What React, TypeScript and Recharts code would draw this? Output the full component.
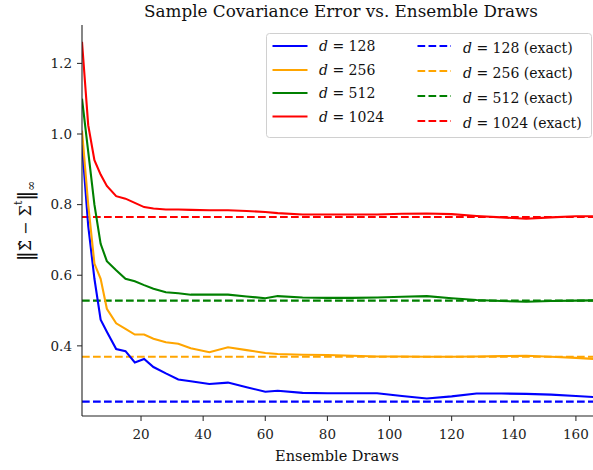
import { LineChart, Line, XAxis, YAxis, ReferenceLine } from 'recharts';

// ensemble draws sampled along the curves
const draws = [1, 3, 5, 7, 9, 12, 15, 18, 21, 24, 28, 32, 36, 42, 48, 54, 60, 64, 72, 80, 88, 96, 104, 112, 120, 128, 136, 144, 152, 160, 166];

const err128 = [0.97, 0.74, 0.59, 0.474, 0.44, 0.391, 0.385, 0.353, 0.363, 0.34, 0.322, 0.305, 0.3, 0.292, 0.296, 0.283, 0.27, 0.273, 0.267, 0.266, 0.266, 0.266, 0.258, 0.251, 0.257, 0.265, 0.265, 0.264, 0.262, 0.258, 0.255];
const err256 = [1.01, 0.8, 0.633, 0.59, 0.505, 0.464, 0.448, 0.432, 0.432, 0.42, 0.41, 0.406, 0.393, 0.382, 0.396, 0.388, 0.38, 0.377, 0.375, 0.374, 0.372, 0.37, 0.37, 0.369, 0.369, 0.37, 0.371, 0.372, 0.369, 0.366, 0.363];
const err512 = [1.1, 0.95, 0.8, 0.689, 0.64, 0.614, 0.59, 0.583, 0.572, 0.562, 0.552, 0.549, 0.545, 0.545, 0.545, 0.54, 0.535, 0.541, 0.537, 0.536, 0.536, 0.537, 0.539, 0.541, 0.535, 0.53, 0.527, 0.525, 0.527, 0.528, 0.529];
const err1024 = [1.261, 1.025, 0.926, 0.885, 0.853, 0.824, 0.817, 0.805, 0.793, 0.789, 0.786, 0.786, 0.785, 0.784, 0.784, 0.782, 0.779, 0.776, 0.772, 0.772, 0.772, 0.772, 0.774, 0.775, 0.773, 0.768, 0.764, 0.76, 0.764, 0.767, 0.767];

const dims = ['128', '256', '512', '1024'];
const exact = [0.242, 0.369, 0.528, 0.765];
const colors = ['#0000ff', '#ffa500', '#008000', '#ff0000'];
const keys = ['d128', 'd256', 'd512', 'd1024'];

const xTicks = [20, 40, 60, 80, 100, 120, 140, 160];
const yTicks = [0.4, 0.6, 0.8, 1.0, 1.2];

const data = draws.map((x, i) => ({
  x,
  d128: err128[i],
  d256: err256[i],
  d512: err512[i],
  d1024: err1024[i],
}));

const FONT = '"DejaVu Serif", "Liberation Serif", serif';
const DASH = '7.7 3.3';
const tickStyle = { fontSize: 13.5, fill: '#222', style: { fontFamily: FONT } };

function Legend() {
  const leftRows = [46, 70, 93, 116.5];
  const rightRows = [46, 71, 96, 121];
  return (
    <g style={{ fontFamily: FONT }} fontSize={14} fill="#111">
      <rect x={266.5} y={33.5} width={325} height={104} rx={3} fill="#fff" fillOpacity={0.8} stroke="#d0d0d0" />
      {dims.map((d, i) => (
        <g key={d}>
          <line x1={272.5} x2={307.5} y1={leftRows[i]} y2={leftRows[i]} stroke={colors[i]} strokeWidth={2.1} />
          <text x={319} y={leftRows[i]} dominantBaseline="central">
            <tspan fontStyle="italic">d</tspan>{' = ' + d}
          </text>
          <line x1={417.5} x2={451} y1={rightRows[i]} y2={rightRows[i]} stroke={colors[i]} strokeWidth={2.1} strokeDasharray={DASH} />
          <text x={463} y={rightRows[i] + 2} dominantBaseline="central">
            <tspan fontStyle="italic">d</tspan>{' = ' + d + ' (exact)'}
          </text>
        </g>
      ))}
    </g>
  );
}

export default function App() {
  return (
    <div style={{ position: 'absolute', left: 0, top: 0, width: 593, height: 470, background: '#fff' }}>
      <LineChart width={593} height={470} data={data} margin={{ top: 25, right: 0, left: 0, bottom: 0 }}>
        <XAxis
          dataKey="x"
          type="number"
          domain={[1, 165.5]}
          allowDataOverflow
          ticks={xTicks}
          tickSize={5}
          tickMargin={8}
          height={54}
          tick={tickStyle}
          axisLine={{ stroke: '#222', strokeWidth: 1.1 }}
          tickLine={{ stroke: '#222' }}
        />
        <XAxis
          xAxisId="top"
          orientation="top"
          type="number"
          domain={[1, 165.5]}
          height={0}
          tick={false}
          tickLine={false}
          axisLine={{ stroke: '#222', strokeWidth: 1.1 }}
        />
        <YAxis
          type="number"
          domain={[0.2014, 1.3087]}
          allowDataOverflow
          ticks={yTicks}
          tickFormatter={(v) => v.toFixed(1)}
          width={82}
          tickSize={5}
          tickMargin={5}
          tick={tickStyle}
          axisLine={{ stroke: '#222', strokeWidth: 1.1 }}
          tickLine={{ stroke: '#222' }}
        />
        {exact.map((v, i) => (
          <ReferenceLine key={i} y={v} stroke={colors[i]} strokeWidth={2.1} strokeDasharray={DASH} />
        ))}
        {keys.map((k, i) => (
          <Line
            key={k}
            dataKey={k}
            stroke={colors[i]}
            strokeWidth={2.1}
            dot={false}
            activeDot={false}
            isAnimationActive={false}
          />
        ))}
      </LineChart>
      <svg width={593} height={470} style={{ position: 'absolute', left: 0, top: 0, pointerEvents: 'none', fontFamily: FONT }}>
        <text x={341} y={11} textAnchor="middle" dominantBaseline="central" fontSize={16.8} fill="#111">
          Sample Covariance Error vs. Ensemble Draws
        </text>
        <text x={337} y={456} textAnchor="middle" dominantBaseline="central" fontSize={14.5} fill="#111">
          Ensemble Draws
        </text>
        <g transform="translate(25,221) rotate(-90)">
          <text textAnchor="middle" dominantBaseline="central" fontSize={16} fill="#111">
            <tspan fontSize={20}>‖</tspan>
            <tspan>Σ̂ − Σ</tspan>
            <tspan dy={-7} fontSize={11}>t</tspan>
            <tspan dy={7} fontSize={20}>‖</tspan>
            <tspan dy={6} fontSize={12}>∞</tspan>
          </text>
        </g>
        <Legend />
      </svg>
    </div>
  );
}
